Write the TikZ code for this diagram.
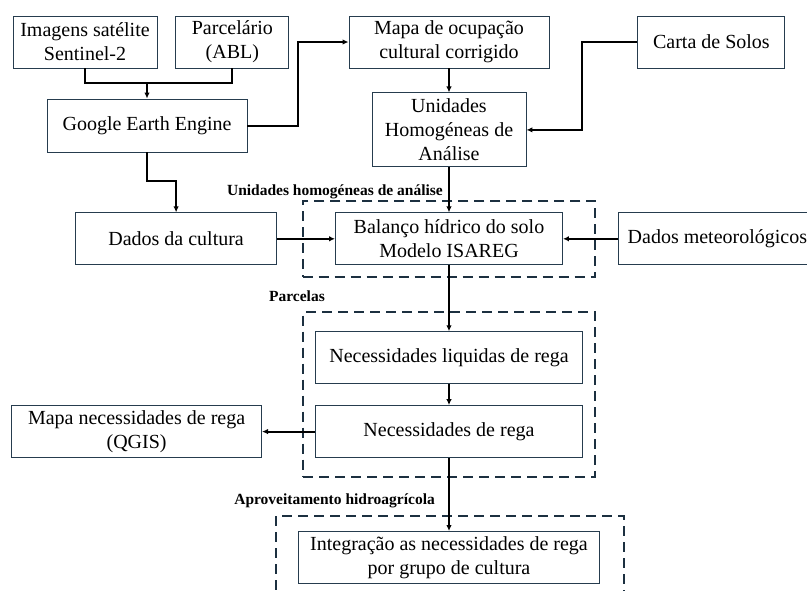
\documentclass[tikz,border=0pt]{standalone}
\usepackage{fontspec}
\setmainfont{Liberation Serif}
\usetikzlibrary{arrows.meta,positioning,fit}
\definecolor{boxline}{RGB}{38,60,78}
\definecolor{groupline}{RGB}{28,48,64}
\tikzset{%
	>={Latex[length=6pt,width=5.5pt]},
	process/.style={rectangle, draw=boxline, line width=0.9pt, align=center, inner sep=2pt, minimum height=52pt, font=\fontsize{20}{24}\selectfont},
	group/.style={draw=groupline, line width=2pt, dash pattern=on 10pt off 6pt},
	grouplabel/.style={inner sep=0pt, font=\bfseries\fontsize{15.5}{18}\selectfont},
	flow/.style={->, line width=2pt, draw=black}
}

\begin{document}
\begin{tikzpicture}[x=1pt, y=1pt, node distance=20pt]
\useasboundingbox (0,0) rectangle (807,-590);

\node (img) [process, minimum width=144pt] at (85,-42) {Imagens satélite\\Sentinel-2};
\node (parc) [process, minimum width=113pt, right=18pt of img] {Parcelário\\(ABL)};
\node (gee) [process, minimum width=200pt, minimum height=53pt] at (147,-125.5) {Google Earth Engine};
\node (mapa) [process, minimum width=200pt] at (449,-42) {Mapa de ocupação\\cultural corrigido};
\node (carta) [process, minimum width=147pt, right=88pt of mapa] {Carta de Solos};
\node (uha) [process, minimum width=154pt, minimum height=74pt, below=24pt of mapa] {Unidades\\Homogéneas de\\Análise};
\node (bal) [process, minimum width=227pt, below=45pt of uha] {Balanço hídrico do solo\\Modelo ISAREG};
\node (cult) [process, minimum width=201pt, left=58pt of bal] {Dados da cultura};
\node (meteo) [process, minimum width=198pt, right=55pt of bal] {Dados meteorológicos};
\node (nliq) [process, minimum width=267pt, below=66pt of bal] {Necessidades liquidas de rega};
\node (nreg) [process, minimum width=267pt, below=21pt of nliq] {Necessidades de rega};
\node (mapreg) [process, minimum width=250pt, left=53pt of nreg] {Mapa necessidades de rega\\(QGIS)};
\node (integ) [process, minimum width=301pt, below=73pt of nreg] {Integração as necessidades de rega\\por grupo de cultura};

% dashed groups
\node (grp_bal) [group, fit=(bal), inner xsep=32.5pt, inner ysep=11.5pt] {};
\node (grp_rega) [group, fit=(nliq)(nreg), inner xsep=12pt, inner ysep=19pt] {};
\draw[group] ([shift={(-22pt,15pt)}]integ.north west) rectangle ([shift={(24pt,-40pt)}]integ.south east);

\node (lbl_uha) [grouplabel, anchor=base east] at (443,-195) {Unidades homogéneas de análise};
\node (lbl_parc) [grouplabel, anchor=base east] at (325,-301) {Parcelas};
\node (lbl_aprov) [grouplabel, anchor=base east] at (435,-504) {Aproveitamento hidroagrícola};

\coordinate (join) at ([yshift=16pt]gee.north);
\draw[line width=2pt] (img.south) |- (join) -| (parc.south);
\draw[flow] (join) -- (gee.north);
\draw[flow] (gee.east) -- ++(51pt,0) |- (mapa.west);
\draw[flow] (mapa) -- (uha);
\draw[flow] (carta.west) -- ++(-55pt,0) |- (uha.east);
\draw[flow] (gee.south) -- ++(0,-29pt) -| (cult.north);
\draw[flow] (uha) -- (bal);
\draw[flow] (cult) -- (bal);
\draw[flow] (meteo) -- (bal);
\draw[flow] (bal) -- (nliq);
\draw[flow] (nliq) -- (nreg);
\draw[flow] (nreg) -- (mapreg);
\draw[flow] (nreg) -- (integ);

\end{tikzpicture}
\end{document}
